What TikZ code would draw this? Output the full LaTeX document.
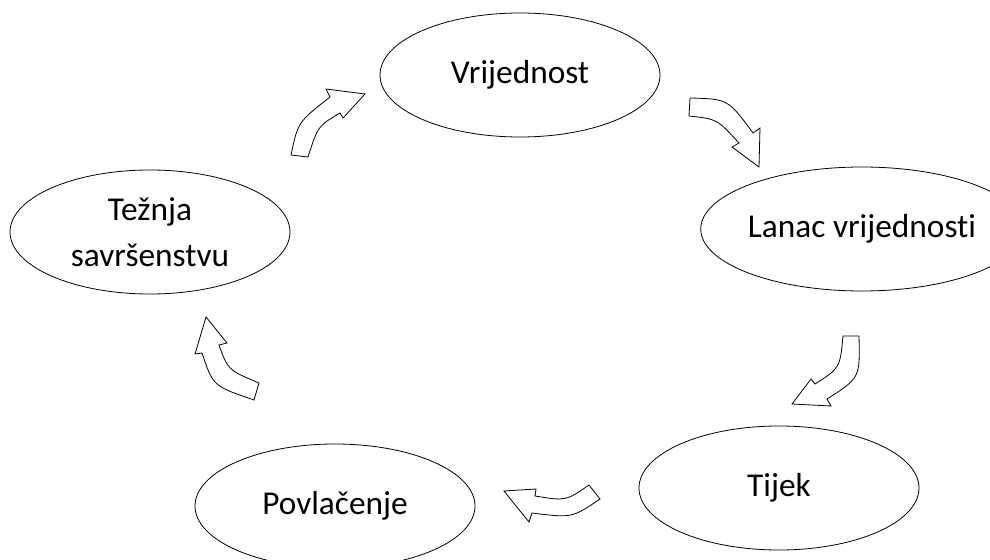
\documentclass[tikz,border=0pt]{standalone}
\usepackage{fontspec}
\setmainfont[Ligatures=NoCommon]{Carlito}
\usetikzlibrary{shapes.geometric}
\begin{document}
\begin{tikzpicture}[x=0.75pt,y=-0.75pt,
  oval/.style={draw=black, line width=0.6pt, ellipse, minimum width=210pt, minimum height=93pt, inner sep=0pt, align=center, font=\fontsize{25}{30}\selectfont},
  blockarrow/.style={draw=black, fill=white, line width=0.6pt, line join=miter}]
\useasboundingbox (0,0) rectangle (990,560);
\node[oval] (v) at (520,75) {Vrijednost};
\node[oval] (l) at (862,229) {Lanac vrijednosti};
\node[oval] (t) at (779,488) {Tijek};
\node[oval] (p) at (335,506) {Povlačenje};
\node[oval] (tz) at (150,232) {Težnja\\[5pt]savršenstvu};
% arrow Tz -> V
\draw[blockarrow] (291,155) .. controls (298,122) .. (330,97) -- (326,89) -- (365,94) -- (343,118) -- (340,113) .. controls (318,126) .. (308,157) -- cycle;
% arrow V -> L
\draw[blockarrow] (690,98) .. controls (728,99) .. (753,133) -- (760,128) -- (759,167) -- (732,147) -- (739,143) .. controls (717,119) .. (689,116) -- cycle;
% arrow L -> T
\draw[blockarrow] (859,336) .. controls (860,378) .. (827,399) -- (831,406) -- (792,404) -- (811,379) -- (815,384) .. controls (840,368) .. (843,336) -- cycle;
% arrow T -> P
\draw[blockarrow] (600,499) .. controls (572,518) .. (532,513) -- (529,522) -- (504,491) -- (536,489) -- (535,496) .. controls (566,501) .. (589,485) -- cycle;
% arrow P -> Tz
\draw[blockarrow] (254,400) .. controls (213,386) .. (202,353) -- (195,354) -- (206,317) -- (227,343) -- (219,345) .. controls (228,370) .. (259,383) -- cycle;
\end{tikzpicture}
\end{document}
